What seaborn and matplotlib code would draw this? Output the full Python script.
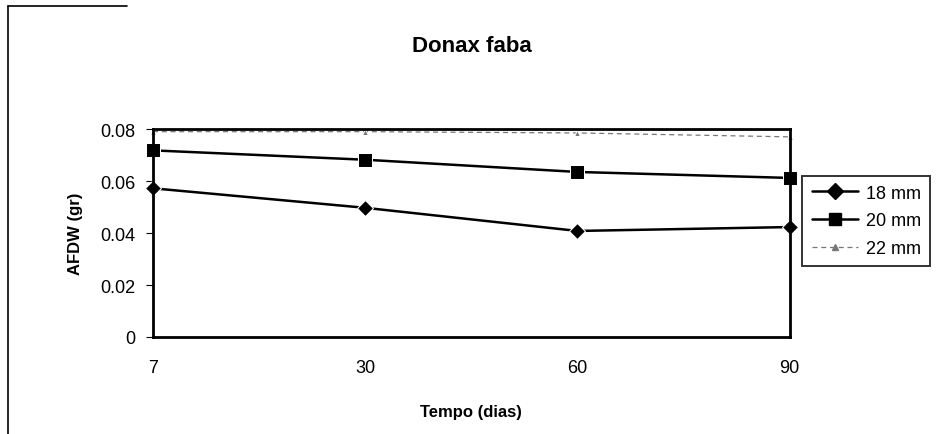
import seaborn as sns
import matplotlib.pyplot as plt
import pandas as pd
from matplotlib.lines import Line2D

# data
dias = ["7", "30", "60", "90"]
afdw_18 = [0.0572, 0.0497, 0.0408, 0.0423]
afdw_20 = [0.0718, 0.0682, 0.0635, 0.0612]
afdw_22 = [0.0790, 0.0790, 0.0785, 0.0770]
series = ["18 mm", "20 mm", "22 mm"]

df = pd.DataFrame({
	"Tempo": dias * 3,
	"AFDW": afdw_18 + afdw_20 + afdw_22,
	"Serie": [s for s in series for _ in dias],
})

sns.set_style("white")
plt.rcParams['font.family'] = ['Liberation Sans', 'DejaVu Sans']
plt.rcParams['text.color'] = 'black'
plt.rcParams['axes.labelcolor'] = 'black'
plt.rcParams['xtick.color'] = 'black'
plt.rcParams['ytick.color'] = 'black'

fig = plt.figure(figsize=(9.39, 4.35), dpi=100)
ax = fig.add_axes([0.163, 0.223, 0.678, 0.478])

sns.lineplot(data=df, x="Tempo", y="AFDW", hue="Serie", style="Serie",
	palette={"18 mm": "black", "20 mm": "black", "22 mm": "#777777"},
	markers={"18 mm": "D", "20 mm": "s", "22 mm": "^"},
	dashes={"18 mm": "", "20 mm": "", "22 mm": (4, 3)},
	markersize=8, ax=ax, legend=False)

for line, lw, ms in zip(ax.lines, [1.8, 1.8, 0.9], [8, 10, 5]):
	line.set_linewidth(lw)
	line.set_markersize(ms)
	line.set_clip_on(False)

ax.set_xlim(0, 3)
ax.set_ylim(0, 0.08)
ax.set_yticks([0, 0.02, 0.04, 0.06, 0.08])
ax.set_yticklabels(["0", "0.02", "0.04", "0.06", "0.08"])
ax.tick_params(axis="both", labelsize=13, length=5, direction="out", color="black")
ax.tick_params(axis="x", length=0, pad=16)
ax.tick_params(axis="y", left=True, pad=8)
for sp in ax.spines.values():
	sp.set_color("black")
	sp.set_linewidth(2)

ax.set_xlabel("Tempo (dias)", fontsize=12, fontweight="bold", labelpad=20)
ax.set_ylabel("AFDW (gr)", fontsize=12, fontweight="bold", labelpad=12)
ax.set_title("Donax faba", fontsize=16, fontweight="bold", pad=56)

handles = [
	Line2D([], [], color="black", marker="D", markersize=8, lw=1.8),
	Line2D([], [], color="black", marker="s", markersize=9, lw=1.8),
	Line2D([], [], color="#777777", marker="^", markersize=5, lw=0.9, ls=(0, (4, 3))),
]
leg = fig.legend(handles, series, loc="upper left", bbox_to_anchor=(0.845, 0.615),
	fontsize=13, frameon=True, fancybox=False, handlelength=2.6,
	borderpad=0.5, labelspacing=0.6, handletextpad=0.4)
leg.get_frame().set_edgecolor("black")
leg.get_frame().set_linewidth(1.4)

# outer chart border (only left and part of top visible in the scan)
fig.add_artist(Line2D([0.009, 0.009], [0.0, 0.985], color="black", lw=1.2, transform=fig.transFigure))
fig.add_artist(Line2D([0.009, 0.135], [0.985, 0.985], color="black", lw=1.2, transform=fig.transFigure))

fig.savefig("out.png", dpi=100)
